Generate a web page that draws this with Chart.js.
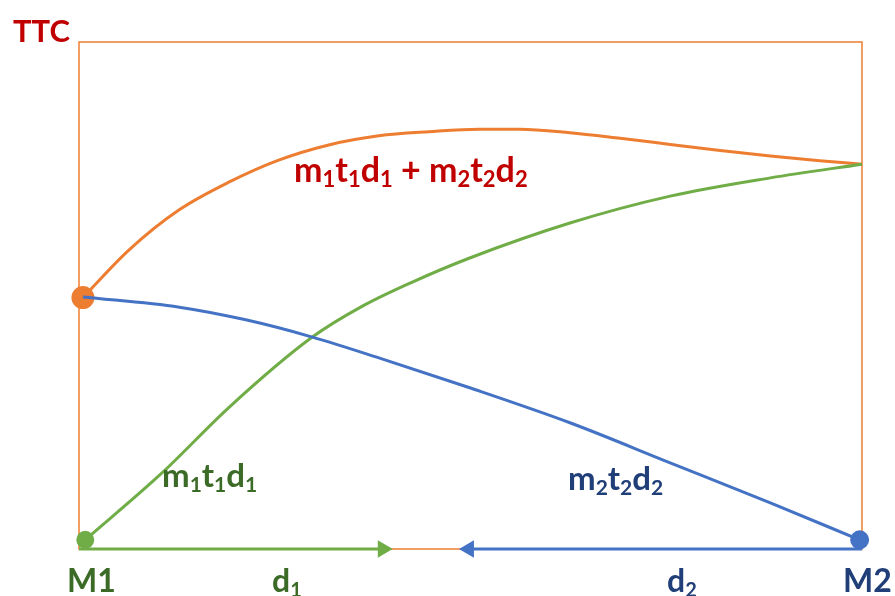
<!DOCTYPE html>
<html>
<head>
<meta charset="utf-8">
<script src="https://cdn.jsdelivr.net/npm/chart.js@4"></script>
<style>
  html, body { margin: 0; padding: 0; background: #fff; }
  #wrap { width: 895px; height: 596px; position: relative; }
</style>
</head>
<body>
<div id="wrap"><canvas id="chart"></canvas></div>
<script>
// curve points (x: 0..100 from M1 to M2, y: 0..100 TTC)
const totalX = [0.5, 6.4, 12.8, 19.2, 25.5, 31.9, 38.3, 44.7, 51.1, 56.3, 62.7, 69.1, 75.5, 81.9, 88.3, 94.6, 100];
const totalY = [49.6, 59.0, 66.9, 72.4, 76.7, 79.7, 81.5, 82.3, 82.8, 82.8, 82.1, 81.0, 79.8, 78.6, 77.5, 76.6, 75.9];

const m1X = [0.8, 10.6, 19.2, 29.8, 36.2, 42.5, 49.9, 62.7, 75.5, 88.3, 100];
const m1Y = [1.8, 15.0, 28.0, 41.8, 47.9, 52.6, 57.4, 64.3, 69.6, 73.2, 75.9];

const m2X = [0.5, 12.8, 21.3, 29.8, 38.3, 49.9, 62.7, 75.5, 88.3, 99.7];
const m2Y = [49.7, 47.7, 45.2, 41.8, 37.7, 31.8, 24.9, 17.0, 9.1, 1.8];

// distance arrows along the bottom axis
const d1Arrow = [0, 38.8];
const d2Arrow = [100, 49.8];

const ORANGE = '#ED7D31';
const BLUE = '#4472C4';
const GREEN = '#70AD47';
const RED_TXT = '#C00000';
const GREEN_TXT = '#3B6B26';
const NAVY_TXT = '#203E78';

const toPoints = (xs, ys) => xs.map((x, i) => ({ x: x, y: ys[i] }));

// text pieces: [text, isSubscript]
const annotations = [
    { parts: [['TTC', 0]], x: 13, y: 42, size: 31, color: RED_TXT },
    { parts: [['M1', 0]], x: 67, y: 592, size: 32, color: GREEN_TXT },
    { parts: [['d', 0], ['1', 1]], x: 272, y: 592, size: 32, color: GREEN_TXT },
    { parts: [['d', 0], ['2', 1]], x: 667, y: 592, size: 32, color: NAVY_TXT },
    { parts: [['M2', 0]], x: 843, y: 592, size: 32, color: NAVY_TXT },
    { parts: [['m', 0], ['1', 1], ['t', 0], ['1', 1], ['d', 0], ['1', 1], [' + ', 0],
              ['m', 0], ['2', 1], ['t', 0], ['2', 1], ['d', 0], ['2', 1]],
      x: 294, y: 182, size: 34, color: RED_TXT },
    { parts: [['m', 0], ['1', 1], ['t', 0], ['1', 1], ['d', 0], ['1', 1]], x: 162, y: 487, size: 33, color: GREEN_TXT },
    { parts: [['m', 0], ['2', 1], ['t', 0], ['2', 1], ['d', 0], ['2', 1]], x: 568, y: 490, size: 33, color: NAVY_TXT }
];

function drawRich(ctx, a) {
    let x = a.x;
    ctx.fillStyle = a.color;
    ctx.textBaseline = 'alphabetic';
    ctx.textAlign = 'left';
    a.parts.forEach(([text, sub]) => {
        const size = sub ? Math.round(a.size * 0.64) : a.size;
        ctx.font = `bold ${size}px Lato, "Open Sans", sans-serif`;
        const dy = sub ? a.size * 0.16 : 0;
        ctx.fillText(text, x, a.y + dy);
        x += ctx.measureText(text).width;
    });
}

const framePlugin = {
    id: 'frame',
    beforeDatasetsDraw(chart) {
        const { ctx, chartArea } = chart;
        ctx.save();
        ctx.strokeStyle = ORANGE;
        ctx.lineWidth = 1.5;
        ctx.strokeRect(chartArea.left, chartArea.top, chartArea.right - chartArea.left, chartArea.bottom - chartArea.top);
        ctx.restore();
    },
    afterDraw(chart) {
        const ctx = chart.ctx;
        ctx.save();
        annotations.forEach(a => drawRich(ctx, a));
        ctx.restore();
    }
};

new Chart(document.getElementById('chart'), {
    type: 'line',
    data: {
        datasets: [
            {
                label: 'd1',
                data: toPoints(d1Arrow, [0, 0]),
                borderColor: GREEN,
                backgroundColor: GREEN,
                borderWidth: 3,
                pointStyle: 'triangle',
                pointRotation: 90,
                pointRadius: [0, 7],
                tension: 0,
                clip: false
            },
            {
                label: 'd2',
                data: toPoints(d2Arrow, [0, 0]),
                borderColor: BLUE,
                backgroundColor: BLUE,
                borderWidth: 3,
                pointStyle: 'triangle',
                pointRotation: -90,
                pointRadius: [0, 7],
                tension: 0,
                clip: false
            },
            {
                label: 'm2t2d2',
                data: toPoints(m2X, m2Y),
                borderColor: BLUE,
                backgroundColor: BLUE,
                borderWidth: 3,
                pointRadius: m2X.map((_, i) => i === m2X.length - 1 ? 8 : 0),
                cubicInterpolationMode: 'monotone',
                clip: false
            },
            {
                label: 'm1t1d1',
                data: toPoints(m1X, m1Y),
                borderColor: GREEN,
                backgroundColor: GREEN,
                borderWidth: 3,
                pointRadius: m1X.map((_, i) => i === 0 ? 7.5 : 0),
                cubicInterpolationMode: 'monotone',
                clip: false
            },
            {
                label: 'm1t1d1 + m2t2d2',
                data: toPoints(totalX, totalY),
                borderColor: ORANGE,
                backgroundColor: ORANGE,
                borderWidth: 3,
                pointRadius: totalX.map((_, i) => i === 0 ? 10 : 0),
                cubicInterpolationMode: 'monotone',
                clip: false
            }
        ]
    },
    options: {
        responsive: true,
        maintainAspectRatio: false,
        animation: false,
        layout: { padding: { left: 79, top: 42, right: 33, bottom: 47 } },
        plugins: {
            legend: { display: false },
            tooltip: { enabled: false }
        },
        elements: { point: { borderWidth: 0 } },
        scales: {
            x: { type: 'linear', min: 0, max: 100, display: false },
            y: { type: 'linear', min: 0, max: 100, display: false }
        }
    },
    plugins: [framePlugin]
});
</script>
</body>
</html>
